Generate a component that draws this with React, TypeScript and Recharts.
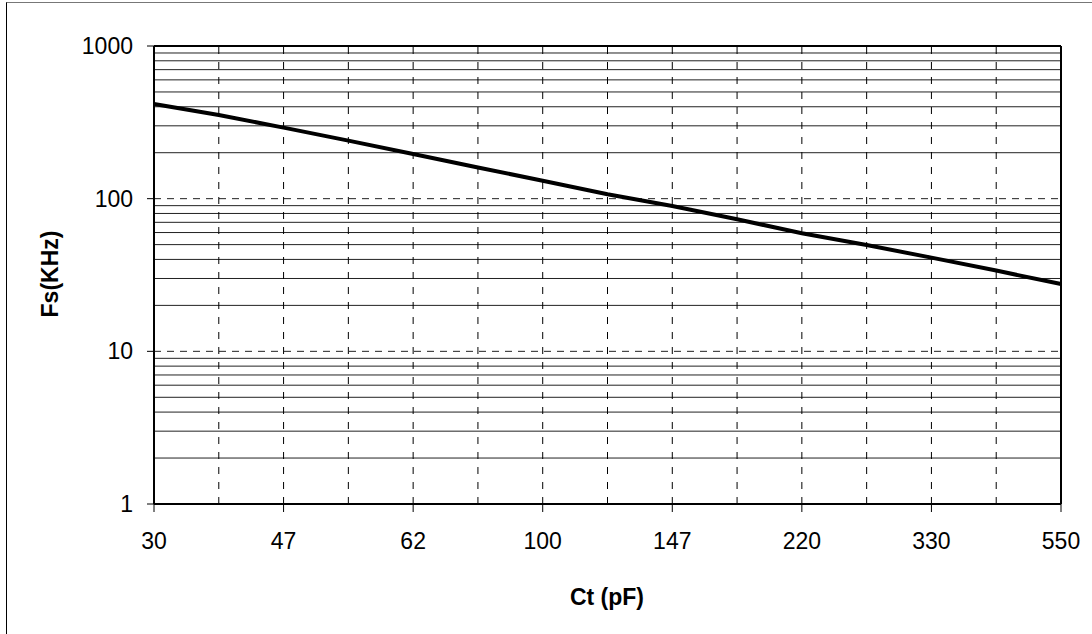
import { LineChart, Line, XAxis, YAxis, ReferenceLine, Label } from 'recharts'

// x categories (evenly spaced on the axis), curve read at every half step
const ctLabels = ['30', '47', '62', '100', '147', '220', '330', '550']
const curvePos = [0, 1, 2, 3, 4, 5, 6, 7, 8, 9, 10, 11, 12, 13, 14]
const fsValues = [417, 353, 292, 240, 196, 160, 131, 107, 89.6, 73.3, 59.3, 49.7, 41.1, 33.8, 27.6]

const yTicks = [1, 10, 100, 1000]
const yMajorDashed = [10, 100]
const yMinor = [2, 3, 4, 5, 6, 7, 8, 9, 20, 30, 40, 50, 60, 70, 80, 90, 200, 300, 400, 500, 600, 700, 800, 900]
const xDashed = [1, 2, 3, 4, 5, 6, 7, 8, 9, 10, 11, 12, 13]

const data = curvePos.map((p, i) => ({ pos: p, fs: fsValues[i] }))

const font = '"Liberation Sans", Arial, sans-serif'

export default function App() {
  return (
    <div style={{ position: 'absolute', left: 0, top: 0, width: 1092, height: 634, background: '#fff' }}>
      <div style={{ position: 'absolute', left: 6, top: 2, right: 0, bottom: 0, borderLeft: '1px solid #000', borderTop: '1px solid #777' }} />
      <div style={{ position: 'absolute', left: 0, top: 0 }}>
        <LineChart width={1092} height={634} data={data} margin={{ top: 46, right: 31, bottom: 20, left: 0 }}>
          {yMinor.map((v) => (
            <ReferenceLine key={`m${v}`} y={v} stroke="#222" strokeWidth={1} />
          ))}
          {yMajorDashed.map((v) => (
            <ReferenceLine key={`d${v}`} y={v} stroke="#222" strokeWidth={1} strokeDasharray="7 6" />
          ))}
          {xDashed.map((v) => (
            <ReferenceLine key={`x${v}`} x={v} stroke="#000" strokeWidth={1} strokeDasharray="7 8" />
          ))}
          <ReferenceLine y={1000} stroke="#000" strokeWidth={2} />
          <ReferenceLine x={14} stroke="#000" strokeWidth={2} />
          <XAxis
            dataKey="pos"
            type="number"
            domain={[0, 14]}
            ticks={[0, 2, 4, 6, 8, 10, 12, 14]}
            tickFormatter={(v: number) => ctLabels[v / 2]}
            height={110}
            tickSize={8}
            tickMargin={21}
            axisLine={{ stroke: '#000', strokeWidth: 2 }}
            tickLine={{ stroke: '#000', strokeWidth: 1 }}
            tick={{ fill: '#000', fontSize: 23, fontFamily: font }}
            interval={0}
          >
            <Label
              content={() => (
                <text x={607} y={605} textAnchor="middle" fontFamily={font} fontSize={23} fontWeight="bold" fill="#000">
                  Ct (pF)
                </text>
              )}
            />
          </XAxis>
          <YAxis
            type="number"
            scale="log"
            domain={[1, 1000]}
            allowDataOverflow
            ticks={yTicks}
            width={154}
            tickSize={7}
            tickMargin={14}
            axisLine={{ stroke: '#000', strokeWidth: 2 }}
            tickLine={{ stroke: '#000', strokeWidth: 1 }}
            tick={{ fill: '#000', fontSize: 23, fontFamily: font }}
            interval={0}
          >
            <Label
              content={() => (
                <text
                  x={58}
                  y={274}
                  transform="rotate(-90 58 274)"
                  textAnchor="middle"
                  fontFamily={font}
                  fontSize={23}
                  fontWeight="bold"
                  fill="#000"
                >
                  Fs(KHz)
                </text>
              )}
            />
          </YAxis>
          <Line
            type="linear"
            dataKey="fs"
            stroke="#000"
            strokeWidth={4}
            dot={false}
            isAnimationActive={false}
          />
        </LineChart>
      </div>
    </div>
  )
}
